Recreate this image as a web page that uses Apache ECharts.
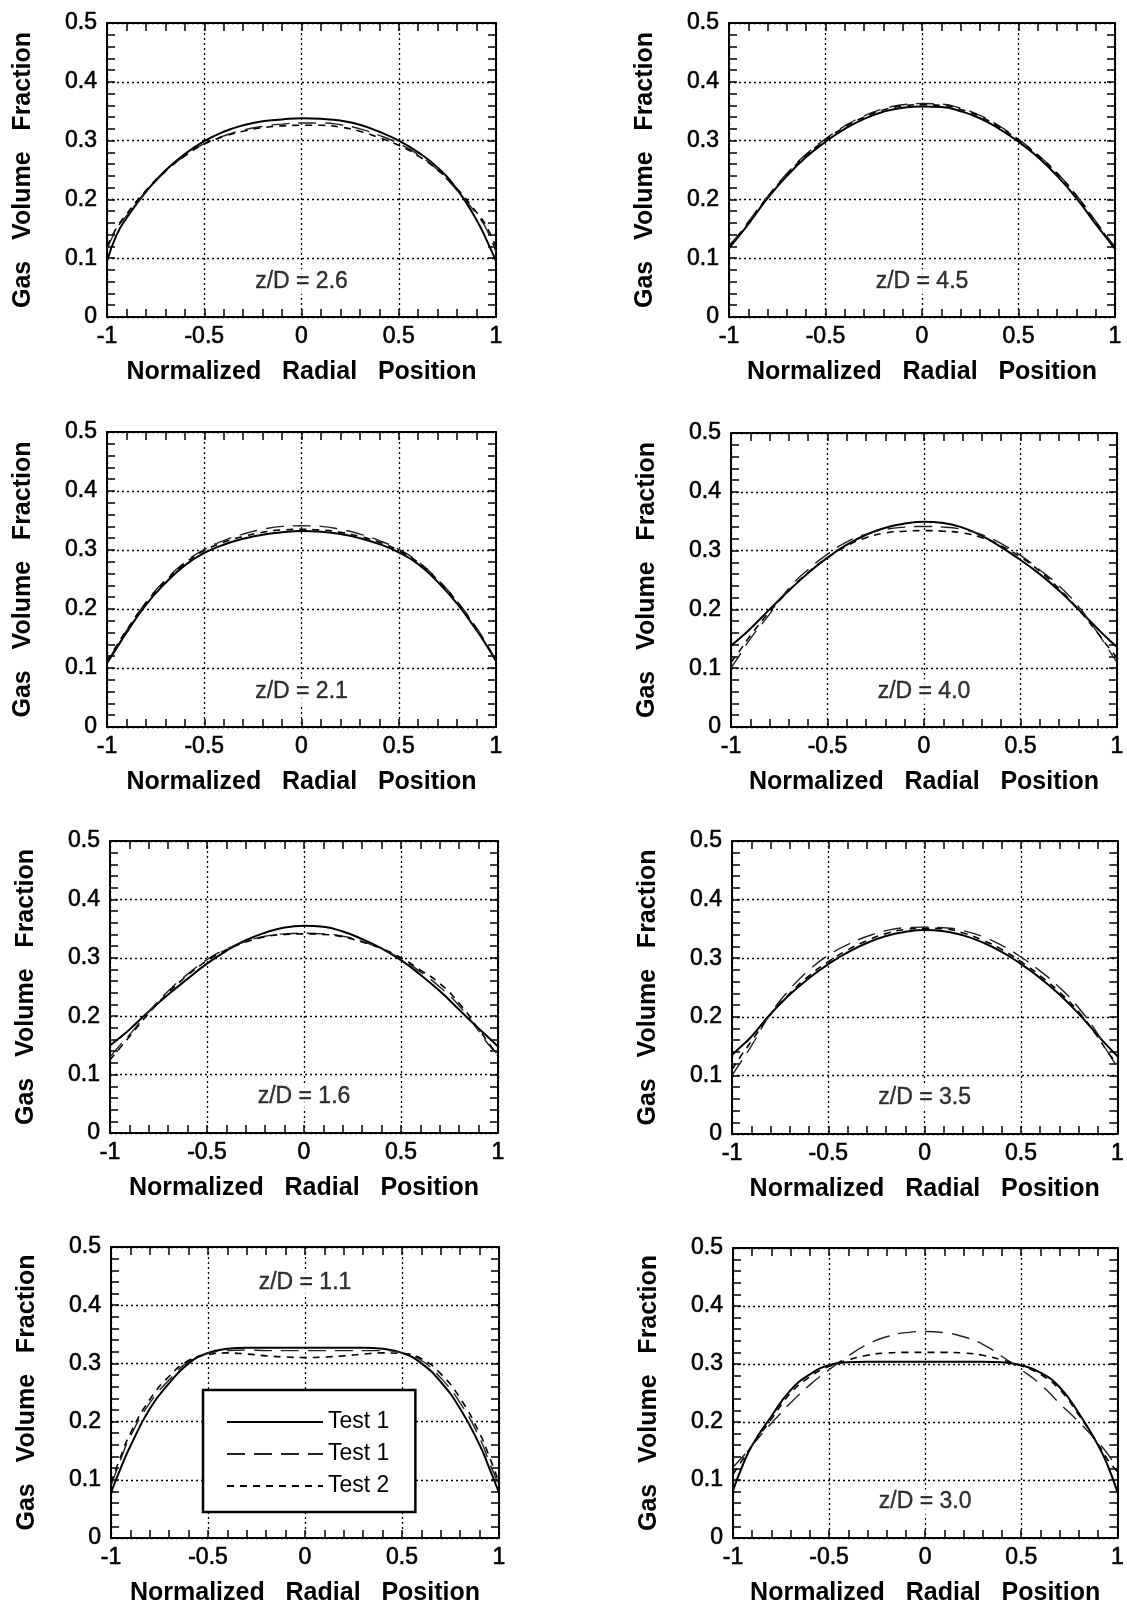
<!DOCTYPE html>
<html>
<head>
<meta charset="utf-8">
<script src="https://cdn.jsdelivr.net/npm/echarts@6/dist/echarts.min.js"></script>
<style>
html,body{margin:0;padding:0;background:#fff;}
#main{width:1127px;height:1608px;}
</style>
</head>
<body>
<div id="main"></div>
<script>
// radial positions shared by all curves
var xs = [-1, -0.95, -0.9, -0.8, -0.7, -0.6, -0.5, -0.4, -0.3, -0.2, -0.1, 0, 0.1, 0.2, 0.3, 0.4, 0.5, 0.6, 0.7, 0.8, 0.9, 0.95, 1];

// z/D = 2.6
var zd26_t1  = [0.095, 0.14, 0.168, 0.213, 0.249, 0.277, 0.299, 0.315, 0.326, 0.333, 0.336, 0.338, 0.337, 0.334, 0.327, 0.315, 0.300, 0.280, 0.254, 0.217, 0.165, 0.132, 0.095];
var zd26_t1b = [0.115, 0.15, 0.172, 0.212, 0.247, 0.274, 0.295, 0.308, 0.318, 0.324, 0.328, 0.33, 0.33, 0.327, 0.32, 0.309, 0.295, 0.276, 0.25, 0.215, 0.175, 0.15, 0.11];
var zd26_t2  = [0.12, 0.152, 0.175, 0.215, 0.248, 0.274, 0.294, 0.307, 0.316, 0.322, 0.325, 0.326, 0.326, 0.323, 0.316, 0.305, 0.292, 0.274, 0.25, 0.218, 0.178, 0.155, 0.118];
// z/D = 4.5
var zd45_t1  = [0.117, 0.137, 0.158, 0.202, 0.24, 0.272, 0.298, 0.32, 0.337, 0.349, 0.356, 0.358, 0.357, 0.35, 0.338, 0.32, 0.298, 0.272, 0.24, 0.202, 0.158, 0.137, 0.116];
var zd45_t1b = [0.122, 0.14, 0.162, 0.205, 0.244, 0.277, 0.303, 0.325, 0.342, 0.354, 0.361, 0.363, 0.362, 0.355, 0.343, 0.325, 0.302, 0.276, 0.245, 0.207, 0.163, 0.14, 0.12];
var zd45_t2  = [0.12, 0.139, 0.16, 0.204, 0.242, 0.275, 0.301, 0.323, 0.34, 0.352, 0.359, 0.361, 0.36, 0.353, 0.341, 0.323, 0.301, 0.275, 0.244, 0.206, 0.162, 0.139, 0.118];
// z/D = 2.1
var zd21_t1  = [0.108, 0.134, 0.16, 0.207, 0.244, 0.274, 0.295, 0.309, 0.319, 0.326, 0.33, 0.332, 0.331, 0.327, 0.32, 0.31, 0.296, 0.276, 0.246, 0.209, 0.164, 0.139, 0.112];
var zd21_t1b = [0.11, 0.137, 0.163, 0.211, 0.249, 0.279, 0.301, 0.316, 0.327, 0.335, 0.34, 0.341, 0.34, 0.335, 0.327, 0.316, 0.301, 0.28, 0.25, 0.213, 0.168, 0.142, 0.113];
var zd21_t2  = [0.112, 0.138, 0.164, 0.21, 0.247, 0.277, 0.299, 0.313, 0.323, 0.33, 0.334, 0.335, 0.334, 0.33, 0.323, 0.313, 0.299, 0.279, 0.249, 0.212, 0.166, 0.14, 0.112];
// z/D = 4.0
var zd40_t1  = [0.138, 0.152, 0.167, 0.2, 0.232, 0.262, 0.288, 0.31, 0.327, 0.339, 0.346, 0.349, 0.347, 0.339, 0.325, 0.306, 0.284, 0.26, 0.232, 0.2, 0.167, 0.151, 0.136];
var zd40_t1b = [0.1, 0.125, 0.15, 0.192, 0.236, 0.268, 0.294, 0.315, 0.328, 0.336, 0.34, 0.341, 0.34, 0.336, 0.327, 0.312, 0.292, 0.267, 0.24, 0.205, 0.16, 0.135, 0.11];
var zd40_t2  = [0.11, 0.132, 0.155, 0.196, 0.232, 0.263, 0.288, 0.308, 0.322, 0.33, 0.333, 0.334, 0.333, 0.33, 0.322, 0.308, 0.289, 0.265, 0.235, 0.2, 0.16, 0.138, 0.118];
// z/D = 1.6
var zd16_t1  = [0.15, 0.163, 0.177, 0.208, 0.237, 0.264, 0.29, 0.312, 0.33, 0.343, 0.352, 0.355, 0.353, 0.345, 0.332, 0.316, 0.296, 0.271, 0.243, 0.211, 0.179, 0.164, 0.148];
var zd16_t1b = [0.13, 0.15, 0.168, 0.208, 0.243, 0.272, 0.297, 0.315, 0.328, 0.337, 0.341, 0.342, 0.341, 0.337, 0.328, 0.315, 0.298, 0.276, 0.25, 0.218, 0.175, 0.152, 0.135];
var zd16_t2  = [0.125, 0.145, 0.165, 0.205, 0.24, 0.27, 0.295, 0.314, 0.327, 0.336, 0.34, 0.341, 0.34, 0.336, 0.327, 0.316, 0.3, 0.279, 0.256, 0.222, 0.178, 0.155, 0.132];
// z/D = 3.5
var zd35_t1  = [0.135, 0.15, 0.166, 0.205, 0.238, 0.266, 0.29, 0.31, 0.326, 0.338, 0.345, 0.348, 0.346, 0.339, 0.327, 0.311, 0.29, 0.266, 0.238, 0.205, 0.168, 0.15, 0.133];
var zd35_t1b = [0.1, 0.125, 0.15, 0.205, 0.247, 0.28, 0.305, 0.323, 0.337, 0.347, 0.352, 0.353, 0.352, 0.347, 0.337, 0.322, 0.302, 0.278, 0.25, 0.215, 0.17, 0.14, 0.115];
var zd35_t2  = [0.11, 0.135, 0.158, 0.204, 0.24, 0.27, 0.294, 0.314, 0.33, 0.342, 0.349, 0.351, 0.35, 0.343, 0.331, 0.315, 0.294, 0.27, 0.242, 0.208, 0.165, 0.14, 0.12];
// z/D = 1.1
var zd11_t1  = [0.078, 0.12, 0.158, 0.222, 0.266, 0.3, 0.318, 0.325, 0.327, 0.327, 0.327, 0.327, 0.327, 0.327, 0.327, 0.325, 0.318, 0.3, 0.268, 0.222, 0.16, 0.12, 0.078];
var zd11_t1b = [0.09, 0.135, 0.175, 0.232, 0.272, 0.303, 0.317, 0.322, 0.323, 0.322, 0.322, 0.322, 0.322, 0.322, 0.322, 0.322, 0.318, 0.305, 0.275, 0.232, 0.172, 0.13, 0.09];
var zd11_t2  = [0.095, 0.14, 0.18, 0.238, 0.278, 0.305, 0.315, 0.318, 0.316, 0.313, 0.311, 0.31, 0.311, 0.313, 0.316, 0.318, 0.317, 0.308, 0.282, 0.24, 0.18, 0.14, 0.095];
// z/D = 3.0
var zd30_t1  = [0.082, 0.125, 0.16, 0.21, 0.255, 0.282, 0.298, 0.303, 0.304, 0.304, 0.304, 0.304, 0.304, 0.304, 0.304, 0.303, 0.298, 0.285, 0.26, 0.215, 0.16, 0.125, 0.08];
var zd30_t1b = [0.122, 0.14, 0.16, 0.198, 0.233, 0.264, 0.29, 0.314, 0.334, 0.347, 0.354, 0.356, 0.354, 0.347, 0.334, 0.313, 0.29, 0.265, 0.232, 0.2, 0.165, 0.145, 0.12];
var zd30_t2  = [0.11, 0.135, 0.16, 0.205, 0.25, 0.278, 0.296, 0.307, 0.315, 0.319, 0.32, 0.32, 0.32, 0.319, 0.315, 0.307, 0.297, 0.282, 0.256, 0.212, 0.162, 0.135, 0.115];

var seriesNames = ['Test 1', 'Test 1 ', 'Test 2'];

// panel layout: [left, top, right, bottom] in px, label height in data units
var panels = [
    {zd: '2.6', data: [zd26_t1, zd26_t1b, zd26_t2], box: [107, 23, 496, 317], ly: 0.06},
    {zd: '4.5', data: [zd45_t1, zd45_t1b, zd45_t2], box: [729, 23, 1115, 317], ly: 0.06},
    {zd: '2.1', data: [zd21_t1, zd21_t1b, zd21_t2], box: [107, 432, 496, 727], ly: 0.06},
    {zd: '4.0', data: [zd40_t1, zd40_t1b, zd40_t2], box: [731, 433, 1117, 727], ly: 0.06},
    {zd: '1.6', data: [zd16_t1, zd16_t1b, zd16_t2], box: [110, 841, 498, 1133], ly: 0.062},
    {zd: '3.5', data: [zd35_t1, zd35_t1b, zd35_t2], box: [732, 841, 1118, 1134], ly: 0.062},
    {zd: '1.1', data: [zd11_t1, zd11_t1b, zd11_t2], box: [111, 1247, 499, 1538], ly: 0.438},
    {zd: '3.0', data: [zd30_t1, zd30_t1b, zd30_t2], box: [733, 1248, 1119, 1538], ly: 0.062}
];

var FONT = '"Liberation Sans", Arial, Helvetica, sans-serif';
var lineStyles = [
    {color: '#000', width: 2, type: 'solid'},
    {color: '#222', width: 1.4, type: [18, 9]},
    {color: '#000', width: 1.6, type: [7, 6]}
];

function pairs(vals){
    return xs.map(function(x, k){ return [x, vals[k]]; });
}

var chart = echarts.init(document.getElementById('main'));
var grids = [], xAxes = [], yAxes = [], series = [];
var frame = {onZero: false, lineStyle: {color: '#000', width: 2}};
var tick = {inside: true, length: 8, lineStyle: {color: '#000', width: 1.5}};
var dotted = {show: true, lineStyle: {color: '#000', width: 1.3, type: [2, 3]}};
var numText = {fontSize: 23, color: '#000', fontFamily: FONT, textBorderColor: '#000', textBorderWidth: 0.6};

panels.forEach(function(p, i){
    grids.push({left: p.box[0], top: p.box[1], width: p.box[2] - p.box[0], height: p.box[3] - p.box[1]});

    var xBase = {gridIndex: i, type: 'value', min: -1, max: 1, interval: 0.5,
        axisLine: frame, axisTick: tick,
        minorTick: {show: true, splitNumber: 5, length: 8, lineStyle: {color: '#000', width: 1.5}}};
    var yBase = {gridIndex: i, type: 'value', min: 0, max: 0.5, interval: 0.1,
        axisLine: frame, axisTick: tick,
        minorTick: {show: true, splitNumber: 5, length: 8, lineStyle: {color: '#000', width: 1.5}}};

    xAxes.push(Object.assign({}, xBase, {
        position: 'bottom',
        axisLabel: Object.assign({margin: 8}, numText),
        splitLine: dotted,
        name: 'Normalized   Radial   Position', nameLocation: 'middle', nameGap: 43,
        nameTextStyle: {fontSize: 25, fontWeight: 'bold', color: '#000', fontFamily: FONT}
    }));
    xAxes.push(Object.assign({}, xBase, {position: 'top', axisLabel: {show: false}, splitLine: {show: false}}));

    yAxes.push(Object.assign({}, yBase, {
        position: 'left',
        axisLabel: Object.assign({margin: 10}, numText),
        splitLine: dotted,
        name: 'Gas   Volume   Fraction', nameLocation: 'middle', nameGap: 71,
        nameTextStyle: {fontSize: 25, fontWeight: 'bold', color: '#000', fontFamily: FONT}
    }));
    yAxes.push(Object.assign({}, yBase, {position: 'right', axisLabel: {show: false}, splitLine: {show: false}}));

    p.data.forEach(function(vals, s){
        series.push({
            type: 'line', name: seriesNames[s],
            xAxisIndex: 2 * i, yAxisIndex: 2 * i,
            data: pairs(vals), smooth: true, symbol: 'none',
            itemStyle: {color: '#000'},
            lineStyle: lineStyles[s], silent: true
        });
    });

    series.push({
        type: 'scatter', name: 'label' + i,
        xAxisIndex: 2 * i, yAxisIndex: 2 * i,
        data: [[0, p.ly]], symbolSize: 1, silent: true, z: 5,
        itemStyle: {color: 'rgba(0,0,0,0)'},
        label: Object.assign({show: true, position: 'inside', formatter: 'z/D = ' + p.zd,
            backgroundColor: '#fff', padding: [1, 3]}, numText, {textBorderWidth: 0.4})
    });
});

var option = {
    animation: false,
    backgroundColor: '#fff',
    grid: grids,
    xAxis: xAxes,
    yAxis: yAxes,
    legend: {
        data: seriesNames,
        orient: 'vertical',
        left: 203, top: 1390,
        itemWidth: 96, itemHeight: 14, itemGap: 8,
        padding: [20, 26, 14, 23],
        borderColor: '#000', borderWidth: 2.5,
        backgroundColor: '#fff',
        selectedMode: false,
        itemStyle: {color: 'rgba(0,0,0,0)', borderWidth: 0, opacity: 0},
        formatter: function(n){ return n.replace(/\s+$/, ''); },
        textStyle: {fontSize: 23, color: '#000', fontFamily: FONT, lineHeight: 24}
    },
    series: series
};
chart.setOption(option);
</script>
</body>
</html>
